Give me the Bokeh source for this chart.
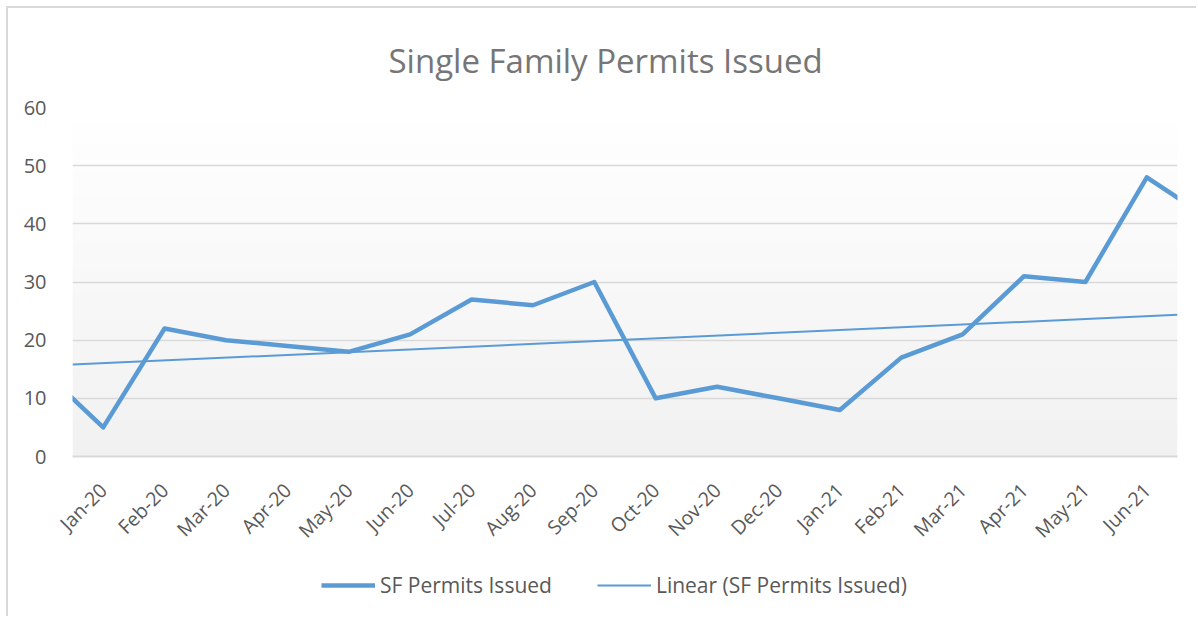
import numpy as np
from math import pi
from bokeh.plotting import figure
from bokeh.layouts import column
from bokeh.models import FixedTicker, Legend, LegendItem, Range1d
from bokeh.embed import file_html
from bokeh.resources import INLINE

# ---- data ----
months = ["Dec-19", "Jan-20", "Feb-20", "Mar-20", "Apr-20", "May-20", "Jun-20",
          "Jul-20", "Aug-20", "Sep-20", "Oct-20", "Nov-20", "Dec-20", "Jan-21",
          "Feb-21", "Mar-21", "Apr-21", "May-21", "Jun-21", "Jul-21"]
permits = [15, 5, 22, 20, 19, 18, 21, 27, 26, 30, 10, 12, 10, 8, 17, 21, 31, 30, 48, 41]
tick_labels = months[1:19]          # months shown on the axis
y_ticks = [0, 10, 20, 30, 40, 50, 60]
trend_start, trend_end = 15.8, 24.35  # linear trendline at the axis edges
series_names = ["SF Permits Issued", "Linear (SF Permits Issued)"]

n_vis = len(tick_labels)
xpos = [i - 0.5 for i in range(len(months))]   # Dec-19 sits just left of the axis
tick_pos = [i + 0.5 for i in range(n_vis)]

FONT = "Open Sans"
BLUE = "#5b9bd5"
GRID = "#d9d9d9"
TXT = "#595959"
W = 1188

p = figure(width=W, height=548,
           x_range=Range1d(0, n_vis), y_range=Range1d(0, 60),
           output_backend="svg", toolbar_location=None,
           min_border_left=64, min_border_right=19,
           min_border_top=99, min_border_bottom=100)
p.outline_line_color = None
p.background_fill_color = "white"
p.border_fill_color = "white"

# gradient plot-area background
rows = 120
shade = np.linspace(0xf1, 0xff, rows)
img = np.zeros((rows, 2), dtype=np.uint32)
view = img.view(dtype=np.uint8).reshape((rows, 2, 4))
for r in range(rows):
    v = int(round(shade[r]))
    view[r, :, 0] = v
    view[r, :, 1] = v
    view[r, :, 2] = v
    view[r, :, 3] = 255
p.image_rgba(image=[img], x=0, y=0, dw=n_vis, dh=60, level="image")

# title
p.title.text = "Single Family Permits Issued"
p.title.align = "left"
p.title.offset = 316
p.title.vertical_align = "middle"
p.title.text_font = FONT
p.title.text_font_size = "33px"
p.title.text_font_style = "normal"
p.title.text_color = "#767676"
p.title.standoff = 48

# grid / axes
p.xgrid.visible = False
p.ygrid.grid_line_color = GRID
p.ygrid.grid_line_width = 1.5
p.yaxis.ticker = FixedTicker(ticks=y_ticks)
p.yaxis.axis_line_color = None
p.yaxis.major_tick_line_color = None
p.yaxis.minor_tick_line_color = None
p.yaxis.major_label_standoff = 20
p.yaxis.major_label_text_font = FONT
p.yaxis.major_label_text_font_size = "20px"
p.yaxis.major_label_text_color = TXT

p.xaxis.ticker = FixedTicker(ticks=tick_pos)
p.xaxis.major_label_overrides = {tp: lab for tp, lab in zip(tick_pos, tick_labels)}
p.xaxis.major_label_orientation = pi / 4
p.xaxis.axis_line_color = GRID
p.xaxis.axis_line_width = 2
p.xaxis.major_tick_line_color = None
p.xaxis.minor_tick_line_color = None
p.xaxis.major_label_standoff = 24
p.xaxis.major_label_text_font = FONT
p.xaxis.major_label_text_font_size = "19.5px"
p.xaxis.major_label_text_color = TXT

# series
p.line(xpos, permits, line_color=BLUE, line_width=4.5, line_join="round")
p.line([0, n_vis], [trend_start, trend_end], line_color=BLUE, line_width=2)

# legend strip below the chart (hidden copies of the series feed the legend keys)
p2 = figure(width=W, height=60, output_backend="svg", toolbar_location=None,
            x_axis_location=None, y_axis_location=None, min_border=0)
p2.grid.visible = False
p2.outline_line_color = None
p2.background_fill_color = "white"
p2.border_fill_color = "white"
k1 = p2.line(xpos, permits, line_color=BLUE, line_width=4.5, visible=False)
k2 = p2.line([0, n_vis], [trend_start, trend_end], line_color=BLUE, line_width=2,
             visible=False)
legend = Legend(items=[LegendItem(label=series_names[0], renderers=[k1]),
                       LegendItem(label=series_names[1], renderers=[k2])],
                orientation="horizontal", location=(249, 17))
legend.label_text_font = FONT
legend.label_text_font_size = "21px"
legend.label_text_color = TXT
legend.glyph_width = 54
legend.label_standoff = 5
legend.spacing = 45
legend.padding = 0
legend.margin = 0
legend.border_line_color = None
legend.background_fill_alpha = 0
legend.inactive_fill_alpha = 0
p2.add_layout(legend, "center")

layout = column(p, p2, spacing=0)
layout.styles = {"margin-left": "6px", "margin-top": "6px",
                 "border-top": "2px solid #d9d9d9", "border-left": "2px solid #d9d9d9"}

open("out.html", "w").write(file_html(layout, INLINE))
